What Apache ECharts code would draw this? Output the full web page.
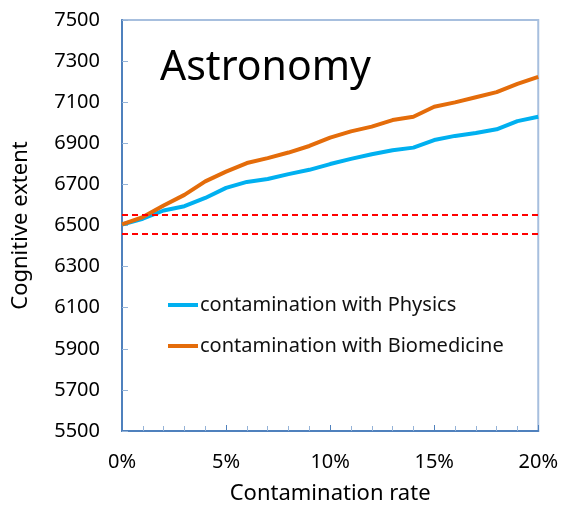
<!DOCTYPE html>
<html>
<head>
<meta charset="utf-8">
<script src="https://cdn.jsdelivr.net/npm/echarts@6/dist/echarts.min.js"></script>
<style>
  html, body { margin: 0; padding: 0; background: #fff; }
  #main { width: 561px; height: 510px; }
</style>
</head>
<body>
<div id="main"></div>
<script>
// contamination rate in %
var rates = [0, 1, 2, 3, 4, 5, 6, 7, 8, 9, 10, 11, 12, 13, 14, 15, 16, 17, 18, 19, 20];
var physics = [6505, 6533, 6573, 6594, 6634, 6683, 6712, 6726, 6750, 6771, 6799, 6824, 6847, 6866, 6879, 6916, 6936, 6950, 6968, 7008, 7029];
var biomedicine = [6505, 6541, 6597, 6649, 6715, 6762, 6804, 6828, 6855, 6887, 6928, 6958, 6981, 7013, 7029, 7078, 7099, 7124, 7149, 7189, 7223];
var bounds = [6552, 6458];

var font = '"Noto Sans", sans-serif';

function pairs(vals) {
  return rates.map(function (r, i) { return [r, vals[i]]; });
}

var chart = echarts.init(document.getElementById('main'));
chart.setOption({
  animation: false,
  textStyle: { fontFamily: font },
  grid: {
    left: 122, right: 20, top: 20, bottom: 76,
    show: true, borderColor: '#a7bfde', borderWidth: 2, backgroundColor: '#fff'
  },
  title: {
    text: 'Astronomy',
    left: 155, top: 43,
    textStyle: { fontFamily: font, fontSize: 41, fontWeight: 'normal', color: '#000' }
  },
  legend: {
    orient: 'vertical',
    left: 163, top: 288,
    itemWidth: 30, itemHeight: 4, itemGap: 17,
    icon: 'rect',
    textStyle: { fontFamily: font, fontSize: 20, color: '#111', lineHeight: 24, padding: [0, 0, 0, -3] },
    data: ['contamination with Physics', 'contamination with Biomedicine']
  },
  xAxis: {
    type: 'value',
    min: 0, max: 20, interval: 5,
    name: 'Contamination rate',
    nameLocation: 'middle', nameGap: 52,
    nameTextStyle: { fontFamily: font, fontSize: 22, color: '#000' },
    axisLine: { lineStyle: { color: '#4f81bd', width: 2 } },
    axisTick: { inside: true, length: 6, lineStyle: { color: '#4f81bd', width: 1 } },
    minorTick: { show: true, splitNumber: 5, length: 5, lineStyle: { color: '#95b3d7', width: 1 } },
    splitLine: { show: false },
    axisLabel: {
      margin: 21, fontSize: 20, color: '#000', fontFamily: font,
      formatter: function (v) { return v + '%'; }
    }
  },
  yAxis: {
    type: 'value',
    min: 5500, max: 7500, interval: 200,
    name: 'Cognitive extent',
    nameLocation: 'middle', nameGap: 90,
    nameTextStyle: { fontFamily: font, fontSize: 22, color: '#000' },
    axisLine: { show: true, lineStyle: { color: '#4f81bd', width: 2 } },
    axisTick: { show: true, inside: true, length: 6, lineStyle: { color: '#95b3d7', width: 1 } },
    splitLine: { show: false },
    axisLabel: {
      margin: 22, fontSize: 20, color: '#000', fontFamily: font,
      formatter: function (v) { return String(v); }
    }
  },
  series: [
    {
      name: 'contamination with Physics',
      type: 'line',
      symbol: 'none',
      color: '#00b0f0',
      lineStyle: { width: 4, color: '#00b0f0' },
      data: pairs(physics),
      z: 3
    },
    {
      name: 'contamination with Biomedicine',
      type: 'line',
      symbol: 'none',
      color: '#e46c0a',
      lineStyle: { width: 4, color: '#e46c0a' },
      data: pairs(biomedicine),
      z: 4,
      markLine: {
        silent: true,
        symbol: 'none',
        label: { show: false },
        lineStyle: { color: '#ff0000', type: [6, 4], width: 2 },
        data: bounds.map(function (b) { return { yAxis: b }; })
      }
    }
  ]
});
</script>
</body>
</html>
